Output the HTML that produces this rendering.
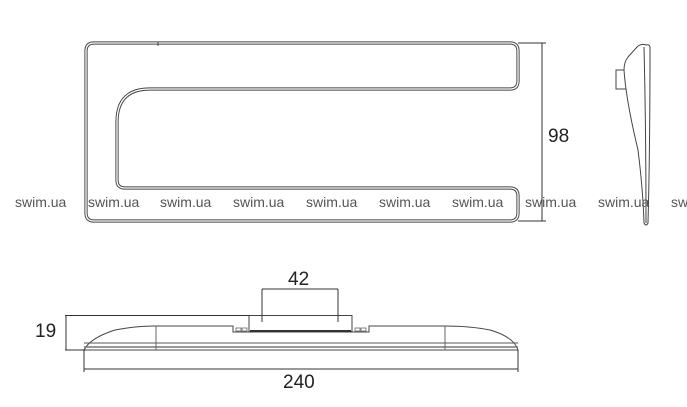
<!DOCTYPE html>
<html><head><style>
body{margin:0;background:#fff;width:687px;height:407px;overflow:hidden}
svg{display:block}
text{font-family:"Liberation Sans","DejaVu Sans",sans-serif}
</style></head><body>
<svg width="687" height="407" viewBox="0 0 687 407">
<g fill="none">
<path d="M94 43 H510 Q518 43 518 51 V81 Q518 89 510 89 H150 Q117 89 117 122 V180 Q117 188 125 188 H510 Q518 188 518 196 V213 Q518 221 510 221 H94 Q86 221 86 213 V51 Q86 43 94 43 Z" stroke="#444" stroke-width="3.2"/>
<path d="M94 43 H510 Q518 43 518 51 V81 Q518 89 510 89 H150 Q117 89 117 122 V180 Q117 188 125 188 H510 Q518 188 518 196 V213 Q518 221 510 221 H94 Q86 221 86 213 V51 Q86 43 94 43 Z" stroke="#fff" stroke-width="1.3"/>
<line x1="158" y1="42" x2="158" y2="46" stroke="#444"/>
<line x1="518" y1="43" x2="546" y2="43" stroke="#333" stroke-width="1"/>
<line x1="518" y1="221" x2="546" y2="221" stroke="#333" stroke-width="1"/>
<line x1="542" y1="43" x2="542" y2="221" stroke="#333" stroke-width="1"/>
<!-- side view -->
<path d="M646 45 Q641 43 637 47 L628 57 Q624 62 624 70 Q626 100 638 150 Q643 190 644 223 Q646 227 648 223 Q650 150 650 48 Q650 44 646 45 Z" stroke="#444" stroke-width="1"/>
<path d="M644 47 Q646 130 646 223" stroke="#444" stroke-width="1"/>
<path d="M624 70 L616 70 L616 89 L626 89" stroke="#444" stroke-width="1"/>
<!-- bottom view -->
<path d="M84 350 Q90 338 115 330 Q135 326 156 326 H233 V332 H369 V326 H444 Q470 326 490 330 Q514 337 518 350 Z" stroke="#444" stroke-width="1"/>
<line x1="84" y1="343" x2="518" y2="343" stroke="#555" stroke-width="1"/>
<line x1="84" y1="347" x2="518" y2="347" stroke="#777" stroke-width="1.5"/>
<line x1="156" y1="326" x2="156" y2="350" stroke="#666"/>
<line x1="445" y1="326" x2="445" y2="350" stroke="#666"/>
<rect x="249" y="315.5" width="103" height="16" stroke="#444" stroke-width="1"/>
<line x1="250" y1="331" x2="351" y2="331" stroke="#333" stroke-width="2"/>
<rect x="236" y="328" width="5" height="3" stroke="#666" stroke-width="0.8"/>
<rect x="242" y="328" width="5" height="3" stroke="#666" stroke-width="0.8"/>
<rect x="355" y="328" width="5" height="3" stroke="#666" stroke-width="0.8"/>
<rect x="361" y="328" width="5" height="3" stroke="#666" stroke-width="0.8"/>
<line x1="262" y1="289" x2="338" y2="289" stroke="#333"/>
<line x1="262" y1="289" x2="262" y2="322" stroke="#333"/>
<line x1="338" y1="289" x2="338" y2="322" stroke="#333"/>
<line x1="65" y1="315.5" x2="250" y2="315.5" stroke="#333"/>
<line x1="65" y1="350" x2="86" y2="350" stroke="#333"/>
<line x1="66" y1="315" x2="66" y2="350" stroke="#333"/>
<line x1="84" y1="350" x2="84" y2="372" stroke="#333"/>
<line x1="518" y1="350" x2="518" y2="372" stroke="#333"/>
<line x1="84" y1="369" x2="518" y2="369" stroke="#333"/>
</g>
<g font-size="19" fill="#222">
<text x="548" y="142">98</text>
<text x="288" y="285">42</text>
<text x="35" y="337">19</text>
<text x="283" y="388">240</text>
</g>
<g font-size="14" fill="#555">
<text x="15" y="207">swim.ua</text>
<text x="88" y="207">swim.ua</text>
<text x="160" y="207">swim.ua</text>
<text x="233" y="207">swim.ua</text>
<text x="306" y="207">swim.ua</text>
<text x="379" y="207">swim.ua</text>
<text x="452" y="207">swim.ua</text>
<text x="525" y="207">swim.ua</text>
<text x="598" y="207">swim.ua</text>
<text x="671" y="207">swim.ua</text>
</g>
</svg>
</body></html>
